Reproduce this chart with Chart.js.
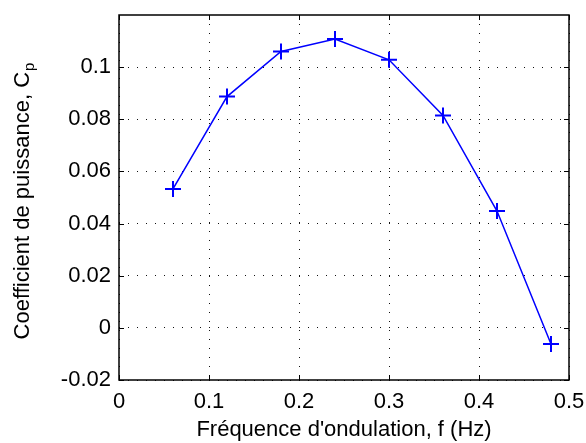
<!DOCTYPE html>
<html>
<head>
<meta charset="utf-8">
<script src="https://cdn.jsdelivr.net/npm/chart.js@4/dist/chart.umd.min.js"></script>
<style>
  html, body { margin: 0; padding: 0; background: #fff; }
  #wrap { width: 586px; height: 443px; }
</style>
</head>
<body>
<div id="wrap"><canvas id="cp"></canvas></div>
<script>
// frequency (Hz) and power coefficient
const freq = [0.06, 0.12, 0.18, 0.24, 0.30, 0.36, 0.42, 0.48];
const cp = [0.0533, 0.0887, 0.1060, 0.1108, 0.1028, 0.0815, 0.0448, -0.0062];

const xTicks = [0, 0.1, 0.2, 0.3, 0.4, 0.5];
const yTicks = [-0.02, 0, 0.02, 0.04, 0.06, 0.08, 0.1];

const FONT = "'Liberation Sans', Arial, sans-serif";
const SIZE = 22;

// box around the axes, inward ticks and the y label with its subscript
const frame = {
  id: 'frame',
  afterDraw(chart) {
    const { ctx, chartArea: a, scales: { x, y } } = chart;
    ctx.save();
    ctx.strokeStyle = '#000';
    ctx.lineWidth = 1;
    ctx.beginPath();
    xTicks.forEach(v => {
      const px = Math.round(x.getPixelForValue(v)) + 0.5;
      ctx.moveTo(px, a.bottom); ctx.lineTo(px, a.bottom - 5);
      ctx.moveTo(px, a.top); ctx.lineTo(px, a.top + 5);
    });
    yTicks.forEach(v => {
      const py = Math.round(y.getPixelForValue(v)) + 0.5;
      ctx.moveTo(a.left, py); ctx.lineTo(a.left + 5, py);
      ctx.moveTo(a.right, py); ctx.lineTo(a.right - 5, py);
    });
    ctx.stroke();
    ctx.lineWidth = 1.5;
    ctx.strokeRect(a.left, a.top, a.right - a.left, a.bottom - a.top);

    ctx.fillStyle = '#000';
    ctx.translate(23, (a.top + a.bottom) / 2 + 4);
    ctx.rotate(-Math.PI / 2);
    ctx.textBaseline = 'middle';
    ctx.textAlign = 'left';
    const main = 'Coefficient de puissance, C';
    ctx.font = SIZE + 'px ' + FONT;
    const w1 = ctx.measureText(main).width;
    ctx.font = '15px ' + FONT;
    const w2 = ctx.measureText('p').width;
    const start = -(w1 + w2) / 2;
    ctx.font = SIZE + 'px ' + FONT;
    ctx.fillText(main, start, 0);
    ctx.font = '15px ' + FONT;
    ctx.fillText('p', start + w1 + 1, 7);
    ctx.restore();
  }
};

// fixed axis sizes, no extra room for overhanging labels
const fitX = s => { s.height = 63; s.paddingLeft = 0; s.paddingRight = 0; };
const fitY = s => { s.width = 119; s.paddingTop = 0; s.paddingBottom = 0; };

new Chart(document.getElementById('cp'), {
  type: 'line',
  data: {
    datasets: [{
      data: freq.map((f, i) => ({ x: f, y: cp[i] })),
      borderColor: '#0000ff',
      borderWidth: 1.5,
      pointStyle: 'cross',
      pointRadius: 8,
      pointBorderWidth: 2,
      pointBorderColor: '#0000ff',
      tension: 0,
      fill: false
    }]
  },
  options: {
    responsive: true,
    maintainAspectRatio: false,
    animation: false,
    layout: { padding: { left: 0, right: 17, top: 15, bottom: 0 } },
    plugins: { legend: { display: false }, tooltip: { enabled: false } },
    scales: {
      x: {
        type: 'linear',
        min: 0, max: 0.5,
        afterBuildTicks: s => { s.ticks = xTicks.map(v => ({ value: v })); },
        afterFit: fitX,
        ticks: {
          color: '#000',
          font: { family: FONT, size: SIZE },
          padding: 9,
          maxRotation: 0,
          callback: v => String(+v.toFixed(2))
        },
        grid: { color: '#111', lineWidth: 1, drawTicks: false },
        border: { display: false, dash: [1, 8] },
        title: {
          display: true,
          text: "Fréquence d'ondulation, f (Hz)",
          color: '#000',
          font: { family: FONT, size: SIZE },
          padding: { top: 0, bottom: 0 }
        }
      },
      y: {
        type: 'linear',
        min: -0.02, max: 0.12,
        afterBuildTicks: s => { s.ticks = yTicks.map(v => ({ value: v })); },
        afterFit: fitY,
        ticks: {
          color: '#000',
          font: { family: FONT, size: SIZE },
          padding: 8,
          callback: v => String(+v.toFixed(2))
        },
        grid: { color: '#111', lineWidth: 1, drawTicks: false },
        border: { display: false, dash: [1, 8] }
      }
    }
  },
  plugins: [frame]
});
</script>
</body>
</html>
